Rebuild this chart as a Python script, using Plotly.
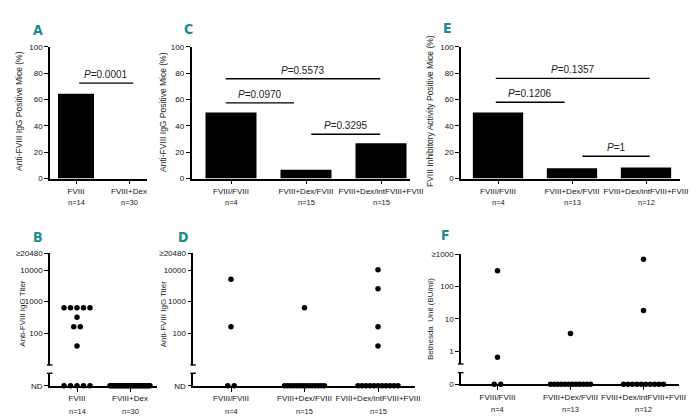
import plotly.graph_objects as go

# ---------------- data ----------------
cats_A = ["FVIII", "FVIII+Dex"]
n_A = [14, 30]
pct_A = [64.3, 0.0]

cats_CE = ["FVIII/FVIII", "FVIII+Dex/FVIII", "FVIII+Dex/intFVIII+FVIII"]
n_C = [4, 15, 15]
pct_C = [50.0, 6.7, 26.7]
n_E = [4, 13, 12]
pct_E = [50.0, 7.7, 8.3]

# titers (positive animals) and number of ND animals per group
titer_B = [[640, 640, 640, 640, 640, 320, 160, 160, 40], []]
nd_B = [5, 30]
titer_D = [[5120, 160], [640], [10240, 2560, 160, 40]]
nd_D = [2, 14, 11]
bu_F = [[310, 0.64], [3.5], [700, 18]]
nd_F = [2, 12, 10]

p_A = [("0.0001", 0, 1)]
p_C = [("0.5573", 0, 2), ("0.0970", 0, 1), ("0.3295", 1, 2)]
p_E = [("0.1357", 0, 2), ("0.1206", 0, 1), ("1", 1, 2)]

titer_ticks = [100, 1000, 10000]
titer_ticktext = ["100", "1000", "10000", "≥20480"]
bu_ticks = [1, 10, 100, 1000]
bu_ticktext = ["1", "10", "100", "≥1000"]

# ---------------- layout geometry (pixels) ----------------
W, H = 696, 420
FONT = "Liberation Sans, Arial, sans-serif"
TEAL = "#1a8c8c"


def fx(p):
    return p / W


def fy(p):
    return 1 - p / H


axis_common = dict(showline=True, linecolor="black", linewidth=1.6,
                   ticks="outside", ticklen=4, tickwidth=1.4, tickcolor="black",
                   showgrid=False, zeroline=False, fixedrange=True, automargin=False,
                   tickfont=dict(size=8, color="#111", family=FONT))

fig = go.Figure()
layout = dict(width=W, height=H, margin=dict(l=0, r=0, t=0, b=0),
              paper_bgcolor="white", plot_bgcolor="white", showlegend=False)
annotations = []
shapes = []


def spread(n, cat, ppu, step_px=6.5, max_px=40):
    if n <= 1:
        return [cat] * n
    step = min(step_px, max_px / (n - 1))
    return [cat + (i - (n - 1) / 2) * step / ppu for i in range(n)]


def n_label(x, xr, ypx):
    annotations.append(dict(x=x, y=fy(ypx), xref=xr, yref="paper", text=f"n={{}}",
                            showarrow=False, xanchor="center", yanchor="middle",
                            font=dict(size=7.5, color="#222", family=FONT)))


# ---------- top bar panels ----------
def bar_panel(idx, cats, vals, ns, ax_x, x_end, cat_px, y0px, y100px, pvals, brackets):
    xn = "xaxis" if idx == 1 else f"xaxis{idx}"
    yn = "yaxis" if idx == 1 else f"yaxis{idx}"
    xr = "x" if idx == 1 else f"x{idx}"
    yr = "y" if idx == 1 else f"y{idx}"
    ppu = (cat_px[-1] - cat_px[0]) / (len(cat_px) - 1)
    xs = list(range(len(cats)))
    lo = (ax_x - cat_px[0]) / ppu
    hi = (len(cats) - 1) + (x_end - cat_px[-1]) / ppu
    layout[xn] = dict(axis_common, domain=[fx(ax_x), fx(x_end)], range=[lo, hi],
                      tickvals=xs, ticktext=cats, anchor=yr, tickangle=0)
    layout[yn] = dict(axis_common, domain=[fy(y0px), fy(y100px)], range=[0, 100],
                      tickvals=[0, 20, 40, 60, 80, 100], anchor=xr)
    fig.add_trace(go.Bar(x=xs, y=vals, width=36 / ppu if idx == 1 else 0.68,
                         marker=dict(color="black", line=dict(width=0)),
                         xaxis=xr, yaxis=yr))
    for i, n in enumerate(ns):
        annotations.append(dict(x=i, y=fy(202), xref=xr, yref="paper", text=f"n={n}",
                                showarrow=False, xanchor="center", yanchor="middle",
                                font=dict(size=7.5, color="#222", family=FONT)))
    for (txt, a, b), (yv, d0, d1) in zip(pvals, brackets):
        shapes.append(dict(type="line", xref=xr, yref=yr, x0=a + d0, x1=b + d1, y0=yv, y1=yv,
                           line=dict(color="black", width=1.4)))
        annotations.append(dict(x=(a + d0 + b + d1) / 2, y=yv, xref=xr, yref=yr,
                                text=f"<i>P</i>=" + txt, showarrow=False,
                                xanchor="center", yanchor="bottom",
                                yshift=1, font=dict(size=10, color="#222", family=FONT)))


bar_panel(1, cats_A, pct_A, n_A, 50, 147, [76, 129], 178.5, 46.7, p_A,
          [(72.4, 0.06, 0.08)])
bar_panel(2, cats_CE, pct_C, n_C, 191.5, 410, [231, 306, 381], 178.5, 46.7, p_C,
          [(75.7, -0.07, -0.01), (57.4, -0.07, -0.16), (33.6, 0.07, -0.01)])
bar_panel(3, cats_CE, pct_E, n_E, 461, 680, [498, 572, 646], 178.5, 46.7, p_E,
          [(76.0, -0.03, 0.05), (57.8, -0.03, -0.1), (16.9, 0.14, 0.05)])


# ---------- bottom scatter panels ----------
def scatter_panel(xi, yu, yl, cats, pos, nds, ns, ax_x, x_end, cat_px,
                  base_px, low_top_px, up_bot_px, up_top_px, log_lo, log_hi,
                  tickvals, ticktext, nd_text):
    xn, yun, yln = f"xaxis{xi}", f"yaxis{yu}", f"yaxis{yl}"
    xr, yur, ylr = f"x{xi}", f"y{yu}", f"y{yl}"
    ppu = (cat_px[-1] - cat_px[0]) / (len(cat_px) - 1)
    xs = list(range(len(cats)))
    lo = (ax_x - cat_px[0]) / ppu
    hi = (len(cats) - 1) + (x_end - cat_px[-1]) / ppu
    layout[xn] = dict(axis_common, domain=[fx(ax_x), fx(x_end)], range=[lo, hi],
                      tickvals=xs, ticktext=cats, anchor=ylr, tickangle=0)
    layout[yun] = dict(axis_common, domain=[fy(up_bot_px), fy(up_top_px)], type="log",
                       range=[log_lo, log_hi], tickvals=tickvals, ticktext=ticktext,
                       anchor=xr)
    layout[yln] = dict(axis_common, domain=[fy(base_px), fy(low_top_px)], range=[0, 1],
                       tickvals=[0], ticktext=[nd_text], anchor=xr)
    px_, py_ = [], []
    nx_, ny_ = [], []
    for i, vals in enumerate(pos):
        groups = []
        for v in vals:
            if groups and groups[-1][0] == v:
                groups[-1][1] += 1
            else:
                groups.append([v, 1])
        for v, c in groups:
            px_ += spread(c, i, ppu)
            py_ += [v] * c
        nx_ += spread(nds[i], i, ppu)
        ny_ += [0] * nds[i]
    mk = dict(color="black", size=5.5, symbol="circle")
    fig.add_trace(go.Scatter(x=px_, y=py_, mode="markers", marker=mk, cliponaxis=False,
                             xaxis=xr, yaxis=yur))
    fig.add_trace(go.Scatter(x=nx_, y=ny_, mode="markers", marker=mk, cliponaxis=False,
                             xaxis=xr, yaxis=ylr))
    for i, n in enumerate(ns):
        annotations.append(dict(x=i, y=fy(base_px + 25.5), xref=xr, yref="paper", text=f"n={n}",
                                showarrow=False, xanchor="center", yanchor="middle",
                                font=dict(size=7.5, color="#222", family=FONT)))
    for yy in (up_bot_px, low_top_px):
        shapes.append(dict(type="line", xref="paper", yref="paper",
                           x0=fx(ax_x - 3), x1=fx(ax_x + 2.5), y0=fy(yy), y1=fy(yy),
                           line=dict(color="black", width=1.4)))


TOP_B = 4.527
scatter_panel(4, 4, 5, cats_A, titer_B, nd_B, n_A, 50, 156.7, [77, 130],
              385.7, 373.3, 365, 253.3, 1.0, TOP_B + 0.0005,
              titer_ticks + [10 ** TOP_B], titer_ticktext, "ND")
scatter_panel(5, 6, 7, cats_CE, titer_D, nd_D, n_C, 193.3, 415, [231, 304.5, 378],
              385.7, 373.3, 365, 253.3, 1.0, TOP_B + 0.0005,
              titer_ticks + [10 ** TOP_B], titer_ticktext, "ND")
scatter_panel(6, 8, 9, cats_CE, bu_F, nd_F, n_E, 461, 679, [497.5, 570.5, 643.5],
              384.3, 372.7, 364, 254.3, -0.4, 3.001,
              bu_ticks, bu_ticktext, "0")

# ---------- axis titles & panel letters ----------
titles = [
    ("Anti-FVIII IgG Positive Mice (%)", 19, 111, 8.5),
    ("Anti-FVIII IgG Positive Mice (%)", 163, 112, 8.5),
    ("FVIII Inhibitory Activity Positive Mice (%)", 430, 111, 8.5),
    ("Anti-FVIII IgG Titer", 21.7, 313, 8),
    ("Anti-FVIII IgG Titer", 163.3, 314, 8),
    ("Bethesda&nbsp; Unit (BU/ml)", 430, 319, 8),
]
for t, x, y, s in titles:
    annotations.append(dict(x=fx(x), y=fy(y), xref="paper", yref="paper", text=t,
                            textangle=-90, showarrow=False, xanchor="center", yanchor="middle",
                            font=dict(size=s, color="#222", family=FONT)))

letters = [("A", 38, 30), ("C", 188, 29), ("E", 447, 28),
           ("B", 38, 237), ("D", 183.3, 237), ("F", 445, 235)]
for t, x, y in letters:
    annotations.append(dict(x=fx(x), y=fy(y), xref="paper", yref="paper", text=f"<b>{t}</b>",
                            showarrow=False, xanchor="center", yanchor="middle",
                            font=dict(size=14, color=TEAL,
                                      family="Liberation Sans Narrow, DejaVu Sans Condensed, Arial Narrow, sans-serif")))

layout["annotations"] = annotations
layout["shapes"] = shapes
fig.update_layout(**layout)
fig.write_html("out.html", config={"displayModeBar": False},
               post_script="document.body.style.margin='0';document.body.style.overflow='hidden';")
